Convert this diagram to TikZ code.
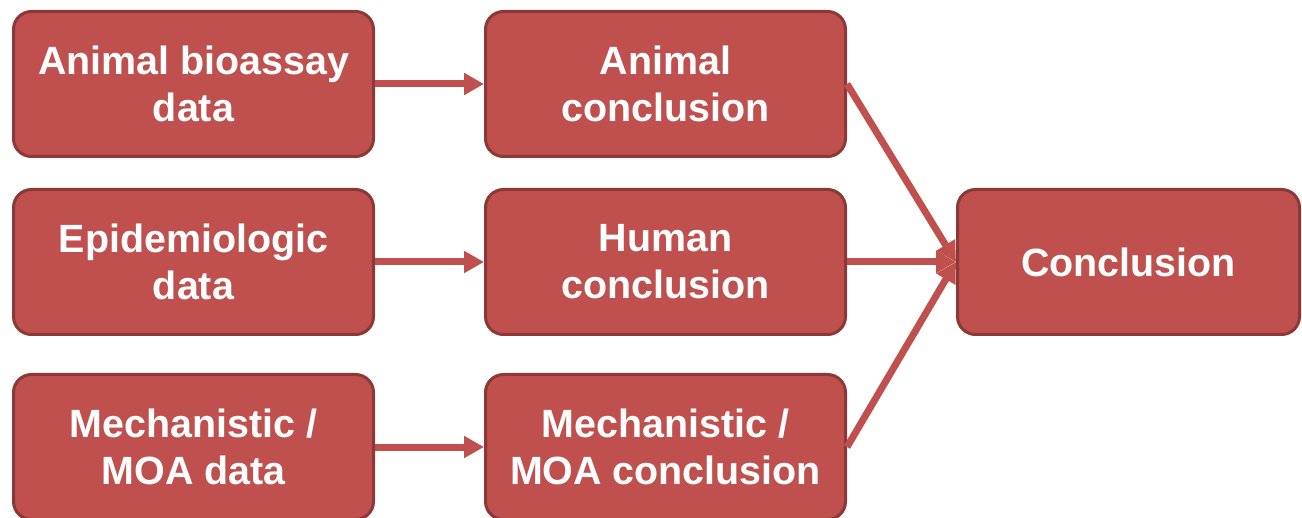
\documentclass[tikz,border=0pt]{standalone}
\usepackage{fontspec}
\setmainfont{Liberation Sans}
\usetikzlibrary{arrows.meta, positioning}
\definecolor{boxfill}{RGB}{192,80,77}
\definecolor{boxedge}{RGB}{140,56,54}

\begin{document}
\begin{tikzpicture}[
    box/.style={rectangle, draw=boxedge, fill=boxfill, line width=1.5pt, rounded corners=9pt, minimum width=180pt, minimum height=72.5pt, align=center, text=white, font=\fontsize{19.7pt}{23.5pt}\selectfont\bfseries},
    arrow/.style={-{Triangle[length=10pt,width=10.5pt]}, line width=3.5pt, draw=boxfill}
]
\useasboundingbox (0,0) rectangle (651pt,-259pt);

% Data
\node[box] (animaldata) at (96.75pt,-42pt) {Animal bioassay\\data};
\node[box, below=15pt of animaldata] (epidata) {Epidemiologic\\data};
\node[box, below=18.5pt of epidata] (moadata) {Mechanistic /\\MOA data};

% Conclusions per stream
\node[box, right=54.5pt of animaldata] (animalconc) {Animal\\conclusion};
\node[box, right=54.5pt of epidata] (humanconc) {Human\\conclusion};
\node[box, right=54.5pt of moadata] (moaconc) {Mechanistic /\\MOA conclusion};

\draw[arrow] (animaldata) -- (animalconc);
\draw[arrow] (epidata) -- (humanconc);
\draw[arrow] (moadata) -- (moaconc);

% Overall
\node[box, minimum width=171pt, right=54.5pt of humanconc] (overall) {Conclusion};

\draw[arrow] (animalconc.east) -- (overall.west);
\draw[arrow] (humanconc) -- (overall);
\draw[arrow] (moaconc.east) -- (overall.west);

\end{tikzpicture}
\end{document}
